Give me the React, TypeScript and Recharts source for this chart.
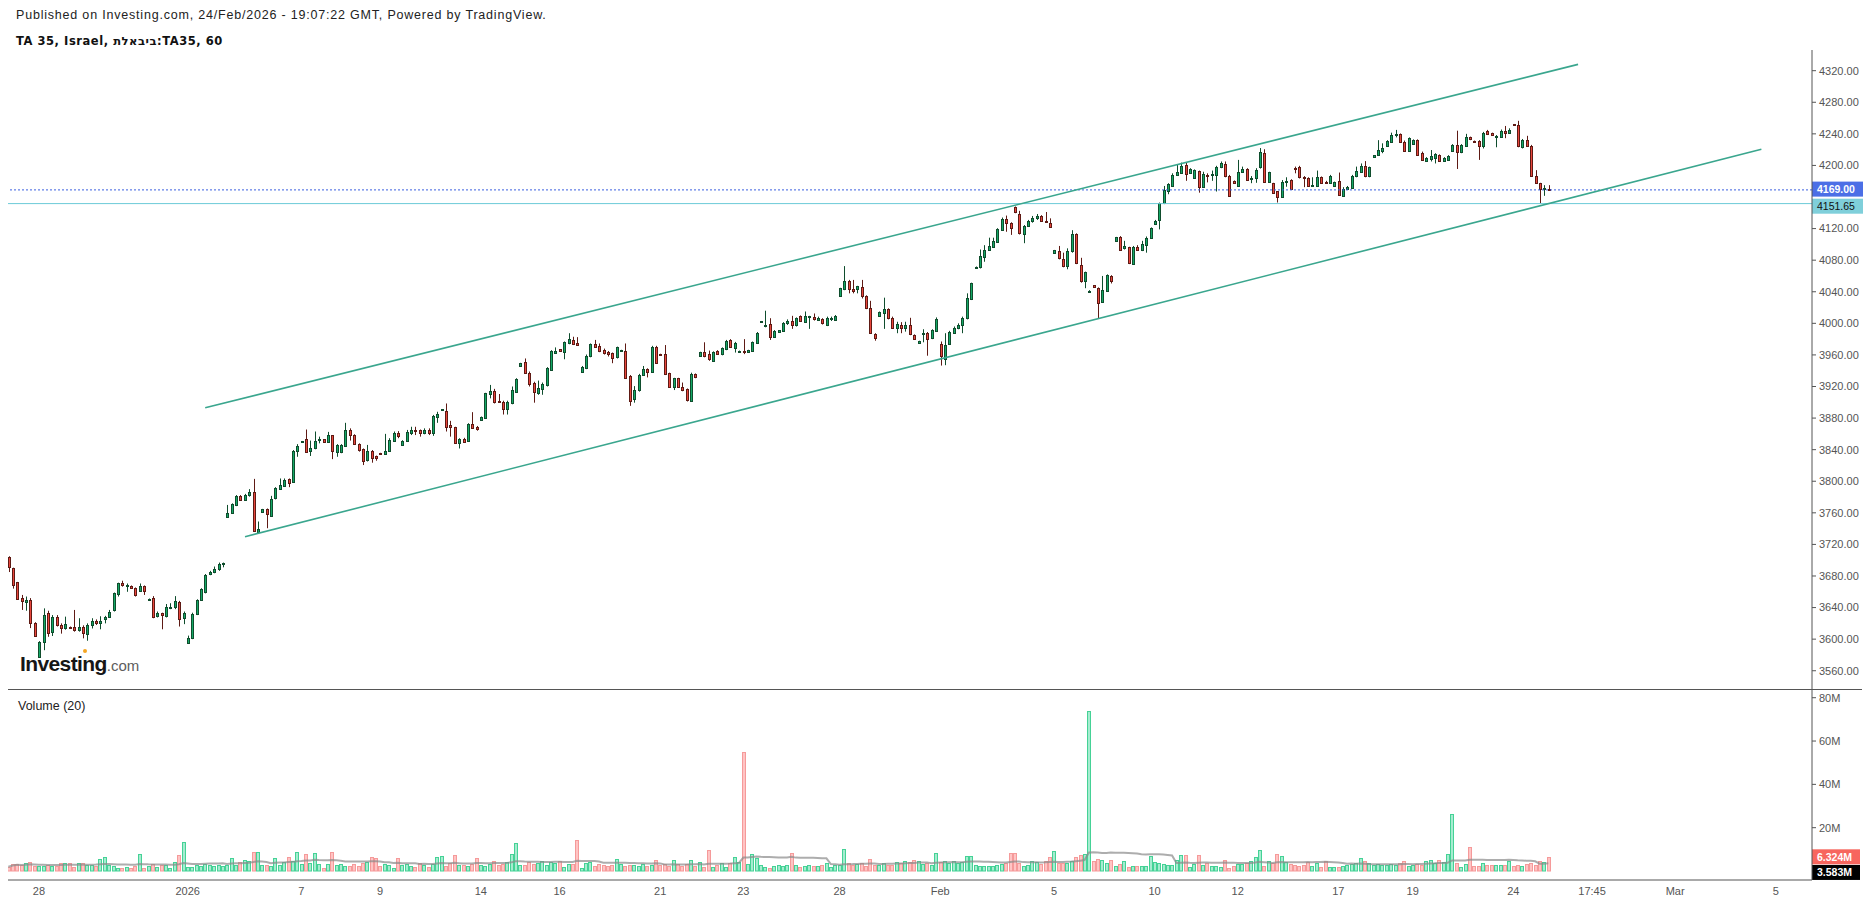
import React from 'react';
import { ComposedChart, Bar, Line, XAxis, YAxis, ReferenceLine } from 'recharts';

// ---------- data (hourly candles, TA 35) ----------
const opens = [
  3704,3690,3672,3652.5,3647,3650,3621,3577,3597,3633.5,
  3609.5,3628.5,3618,3614,3615.5,3616,3611.5,3615,3606,3618.5,
  3623,3620,3625,3628.5,3637,3657,3671.5,3667.5,3667.5,3664.5,
  3661.5,3667.5,3650,3652.5,3629.5,3632.5,3629.5,3639.5,3640.5,3647.5,
  3626.5,3595.5,3601,3631.5,3649.5,3660,3682,3684.5,3688.5,3695,
  3755,3760,3770,3781.5,3776,3783,3786,3736,3760.5,3764.5,
  3756.5,3778.5,3790,3794.5,3802.5,3799.5,3838.5,3849.5,3853,3838.5,
  3841.5,3852,3853,3850,3858,3836.5,3836.5,3845,3865.5,3858.5,
  3847,3840.5,3827,3838.5,3832,3835.5,3834,3838.5,3851.5,3861.5,
  3846.5,3851,3861.5,3865,3865,3860.5,3865.5,3861.5,3882,3890.5,
  3889,3871,3868.5,3849,3853.5,3851.5,3872.5,3868.5,3877.5,3880.5,
  3910.5,3914.5,3901.5,3900.5,3892,3898.5,3913.5,3946.5,3950.5,3937.5,
  3925,3912,3916.5,3922,3941,3963,3967,3964,3974.5,3979,
  3974.5,3938.5,3943,3958,3974,3971.5,3966,3963.5,3962,3957,
  3964.5,3964.5,3933.5,3904,3915,3934.5,3942,3939,3969.5,3961,
  3961,3936.5,3920,3930.5,3919,3916.5,3902,3935.5,3959,3963.5,
  3961,3952.5,3965,3961,3967.5,3979,3969,3964.5,3965.5,3964,
  3965.5,3975.5,4001.5,3996.5,3999,3983,3989.5,3990.5,4000,4003,
  3998,4009.5,4002,4008,4008,4004,4005,3998,4006.5,4004,
  4035,4043,4053.5,4044,4044,4045.5,4034.5,4019,3986.5,4009.5,
  4013.5,4018,4007,3993.5,3998.5,3994.5,3998,3985,3974.5,3986.5,
  3988,3981,3990.5,3973.5,3955,3974,3988,3994.5,3998,4006.5,
  4030.5,4071,4071,4084,4093,4097,4103.5,4118,4132,4126.5,
  4147,4138,4113,4123.5,4129,4134,4136,4129.5,4126.5,4088.5,
  4091.5,4081,4072,4091,4113,4074,4053,4040.5,4048,4044.5,
  4027.5,4041.5,4060,4104.5,4109.5,4095,4096.5,4075,4096.5,4093,
  4099,4108.5,4125.5,4131.5,4152,4167,4174,4188.5,4191,4200,
  4191,4183.5,4193,4173,4188,4187.5,4188.5,4197.5,4202,4186.5,
  4180.5,4174.5,4192,4195.5,4183,4184.5,4198.5,4215.5,4179.5,4177.5,
  4167,4160.5,4178.5,4181.5,4196.5,4197.5,4185,4183.5,4174.5,4174.5,
  4185,4178.5,4177.5,4174,4180.5,4161.5,4170,4172,4186.5,4192,
  4199.5,4186,4210.5,4213,4218.5,4224.5,4230,4238,4240,4230,
  4218.5,4227,4232,4216,4206,4208.5,4210,4213,4205.5,4207,
  4218.5,4226,4216.5,4225,4235.5,4231,4231.5,4225,4243.5,4240.5,
  4236.5,4236.5,4243.5,4241.5,4252,4251,4223,4232,4225,4186.5,
  4177.5,4170,4170.5,
];
const highs = [
  3705,3690.5,3672.5,3656,3654,3652,3621.5,3597.5,3639,3636,
  3630.5,3630.5,3620,3628.5,3616,3637,3626.5,3617.5,3620,3626.5,
  3625,3629,3629.5,3637,3659,3671.5,3674,3670.5,3668,3665.5,
  3670.5,3668,3651.5,3654.5,3635,3633.5,3644.5,3645.5,3654.5,3648.5,
  3635,3604.5,3633.5,3650.5,3664.5,3682.5,3686.5,3692,3697,3697,
  3770,3772,3782.5,3782.5,3784,3790,3803,3749,3765,3765.5,
  3781.5,3792.5,3803.5,3803.5,3803.5,3839.5,3847,3851,3865.5,3851.5,
  3863,3856.5,3853.5,3862.5,3858.5,3847,3847,3874,3867,3859.5,
  3848,3841.5,3846,3839.5,3832.5,3836,3860,3854.5,3863,3863.5,
  3852,3865,3869,3869,3865.5,3867,3867,3884,3888,3891.5,
  3898.5,3876.5,3869,3854.5,3855,3873.5,3887.5,3870,3882,3912,
  3922,3917,3910.5,3902,3902,3920,3930.5,3950,3955.5,3939,
  3926,3927.5,3925,3944.5,3966,3969.5,3967.5,3977,3987.5,3983,
  3982.5,3946,3960.5,3974.5,3979,3974.5,3968,3965,3963,3970.5,
  3966.5,3974.5,3934.5,3920.5,3936,3946,3943,3971.5,3971.5,3961.5,
  3972.5,3937.5,3931,3931,3925,3917.5,3937.5,3936.5,3964,3976,
  3965.5,3964.5,3966,3969.5,3979,3980,3976.5,3965.5,3980,3966.5,
  3977,3989,4003,4016,4006.5,3991.5,3991.5,4001.5,4005,4009.5,
  4007.5,4010,4015,4009.5,4012.5,4008.5,4006.5,4008.5,4008.5,4010.5,
  4045,4072.5,4055,4055,4047.5,4055,4035.5,4028.5,3987.5,4015,
  4032.5,4019,4008.5,4002,4001.5,4002,4007,3986,3978,3992.5,
  3989,3992.5,4007.5,3977,3987.5,3990.5,3996,4000,4008.5,4038,
  4051.5,4072,4093.5,4099,4108.5,4108.5,4120.5,4134,4136.5,4128,
  4148,4142.5,4124.5,4131,4136,4138.5,4137,4141,4133,4093,
  4098,4089.5,4095,4118,4114,4083,4065.5,4042,4048.5,4045.5,
  4060,4062,4061,4109.5,4110.5,4104.5,4097,4098,4099,4104.5,
  4110,4121.5,4131,4153,4174,4177.5,4190,4201.5,4203.5,4203.5,
  4196.5,4195,4193.5,4192,4190,4193.5,4199.5,4205,4205,4188,
  4181,4207,4198.5,4196.5,4186.5,4196.5,4222,4220.5,4192,4178,
  4167.5,4181.5,4185,4182.5,4198.5,4199.5,4186.5,4185,4185,4193.5,
  4186,4180.5,4188,4179.5,4191,4172.5,4174,4188,4198.5,4202.5,
  4205.5,4198.5,4213,4232,4228,4232,4241.5,4245,4240.5,4231.5,
  4235.5,4233,4233,4217.5,4210.5,4219.5,4215.5,4214,4210.5,4213,
  4227,4244,4227,4240,4236.5,4231.5,4232,4242.5,4245,4241.5,
  4238.5,4245.5,4250,4247,4252.5,4256.5,4233.5,4237.5,4226,4194,
  4178,4175,4175,
];
const lows = [
  3685,3664,3650,3637,3636,3614,3603,3576.5,3586,3603,
  3604,3616,3607,3612,3613,3609.5,3609.5,3601,3598,3613.5,
  3618,3612.5,3620,3627.5,3635,3654,3666.5,3660,3664,3654,
  3660,3656,3649.5,3626.5,3627.5,3612.5,3627.5,3638,3638,3616,
  3619,3595,3600,3630.5,3648.5,3658,3681,3683.5,3686.5,3691,
  3754,3759.5,3768.5,3775.5,3775.5,3780.5,3736,3735,3760,3740.5,
  3755,3777,3789,3793,3792.5,3798,3831,3849,3836,3832,
  3840.5,3848,3850,3849,3828,3831,3835.5,3844,3851.5,3846,
  3837.5,3820.5,3825,3823.5,3826,3833.5,3834,3837.5,3850,3854.5,
  3846,3850,3858.5,3858.5,3856.5,3859.5,3858.5,3857.5,3874,3890,
  3863,3856.5,3848,3841.5,3849,3851,3867,3864,3876.5,3879.5,
  3905,3898.5,3900,3884.5,3884.5,3897.5,3912,3945,3936,3920,
  3899.5,3909.5,3909.5,3920,3940,3962,3965,3954.5,3973.5,3972.5,
  3972,3937.5,3942,3957,3969.5,3963.5,3960.5,3958,3949.5,3955.5,
  3964,3930,3895.5,3899.5,3913.5,3933.5,3931.5,3937.5,3948.5,3959,
  3934.5,3918.5,3915.5,3918.5,3914,3901,3901,3930.5,3958,3957,
  3952.5,3952,3960,3959.5,3966,3969.5,3963,3964,3961,3963.5,
  3964.5,3974.5,4001,3995,3979,3982,3989,3990,3998,3993,
  3996,4002,4001.5,3993,4003.5,4003,3998.5,3996.5,4003,4003.5,
  4034,4042,4038,4038,4038,4031.5,4018,3986.5,3978,4009,
  3993,4005,3993,3987.5,3987.5,3989.5,3985,3979,3974,3976,
  3959,3980,3989.5,3946.5,3947,3973,3987,3992.5,3987.5,4005,
  4029.5,4070.5,4069.5,4078,4092,4096.5,4102.5,4117,4116,4112,
  4139.5,4112.5,4101.5,4122.5,4127.5,4131,4129,4127.5,4121,4088,
  4081,4071,4068.5,4089.5,4075,4051.5,4044.5,4040,4046,4005.5,
  4026.5,4040,4050.5,4104,4093,4093.5,4075,4074,4092,4091.5,
  4089.5,4107.5,4124.5,4119,4151,4163.5,4173,4188,4190,4180.5,
  4190,4183,4165.5,4172.5,4178.5,4180.5,4167,4196.5,4185,4161,
  4177,4174,4191,4180.5,4177.5,4178,4196,4178.5,4178,4164.5,
  4153,4160,4173,4170,4190,4183.5,4172.5,4173,4173,4173,
  4177,4176.5,4176.5,4173,4161.5,4160.5,4169,4171,4185,4191,
  4185,4185,4210,4212.5,4215.5,4224,4229,4235.5,4229.5,4217,
  4217.5,4226,4212.5,4206,4205.5,4205,4202.5,4205,4205,4206,
  4217.5,4195.5,4215.5,4224,4232,4229,4207,4221.5,4238.5,4237.5,
  4223,4235.5,4234.5,4240.5,4251,4223,4221.5,4224,4186,4176.5,
  4152,4161.5,4168,
];
const closes = [
  3691,3669,3650.5,3648,3650,3621,3603.5,3597,3631,3608,
  3628.5,3618,3614,3619,3614,3611,3616,3607.5,3618.5,3623.5,
  3620,3623.5,3628.5,3635,3658,3670.5,3668.5,3668.5,3664.5,3656,
  3667.5,3661.5,3651,3627.5,3633.5,3630,3640.5,3641,3648.5,3625,
  3632.5,3601,3631.5,3649.5,3663,3681,3685.5,3689,3695,3696,
  3760,3771,3781.5,3776,3783,3787,3736.5,3739,3764.5,3758,
  3777.5,3791,3795,3801.5,3798,3838.5,3845,3851,3837.5,3841.5,
  3851.5,3853,3850,3858,3838.5,3846.5,3846,3865.5,3858.5,3847,
  3839.5,3826,3838.5,3830,3830,3834,3838.5,3852,3861.5,3857.5,
  3851,3863,3865,3863.5,3860.5,3865.5,3861.5,3882.5,3885,3891,
  3869,3869,3849,3853.5,3850,3872.5,3868,3866.5,3881,3911.5,
  3914.5,3900,3900.5,3892,3900.5,3915.5,3929,3949.5,3936.5,3923,
  3912.5,3917.5,3923,3943,3965,3965,3965.5,3976,3980,3973.5,
  3972.5,3945,3959,3973.5,3970.5,3965.5,3962,3961.5,3955.5,3969.5,
  3966,3931,3902,3915.5,3934.5,3942,3939,3970.5,3949.5,3959.5,
  3935.5,3920,3930.5,3920,3915.5,3903,3936,3932.5,3963.5,3958,
  3955,3963.5,3961,3969,3977.5,3970.5,3974.5,3965,3964.5,3966,
  3976.5,3988,4002.5,3998.5,3983,3990.5,3991.5,4000.5,4003,3998,
  4006.5,4003.5,4009.5,4009,4005,4006.5,4000,4006.5,4007,4009.5,
  4044.5,4053.5,4043,4041.5,4047,4034,4019,3987.5,3981,4014,
  4018,4006.5,3993.5,3999,3993.5,3998,3986,3980,3977,3987.5,
  3980,3991.5,4005.5,3958,3972.5,3989,3994.5,3998,4006.5,4031.5,
  4050.5,4071.5,4085.5,4093.5,4098,4104.5,4119.5,4132,4126.5,4120.5,
  4140.5,4114,4123.5,4129.5,4134,4136,4130,4128.5,4121.5,4092.5,
  4082.5,4072,4091.5,4113,4076,4053,4064.5,4041.5,4046.5,4026,
  4042,4061,4053,4109,4093.5,4098,4076,4096.5,4093.5,4100.5,
  4108.5,4120.5,4129.5,4152,4169,4176,4188.5,4191.5,4199.5,4189,
  4195,4194,4173,4189,4186,4189,4197.5,4202.5,4186,4161.5,
  4177.5,4191.5,4195.5,4181.5,4184.5,4194,4216.5,4179.5,4191.5,4165.5,
  4160.5,4179.5,4180.5,4170.5,4195,4185,4183.5,4174.5,4175.5,4185,
  4178,4177.5,4187,4178.5,4162.5,4170,4172.5,4186.5,4193,4199.5,
  4186,4197.5,4213,4219.5,4222.5,4231.5,4238.5,4239.5,4230,4218.5,
  4234.5,4232,4213,4207,4209,4212,4214,4205.5,4209,4212,
  4226,4216.5,4226,4235.5,4233,4229.5,4225,4240.5,4240,4238.5,
  4237.5,4243.5,4240.5,4245,4251.5,4224,4232,4225,4186.5,4177.5,
  4170,4172,4169,
];
// volume in millions
const volumes = [
  2.0,3.1,3.4,2.6,3.6,4.0,2.5,2.2,2.3,2.6,
  2.2,2.4,3.8,3.8,3.6,1.9,3.5,3.6,2.6,3.0,
  2.5,5.4,6.3,2.9,2.3,1.5,1.2,2.0,1.4,2.1,
  7.8,1.5,2.4,3.4,1.9,2.6,2.9,1.6,4.0,7.4,
  13.4,1.8,1.7,2.9,2.3,3.2,2.6,2.2,2.7,2.3,
  3.0,5.8,2.9,4.2,5.0,4.8,8.9,8.6,2.8,2.6,
  2.3,5.9,2.6,4.3,6.3,4.6,9.0,3.1,7.8,3.5,
  8.1,3.4,1.6,3.4,8.6,2.6,3.4,2.5,2.4,3.2,
  2.5,3.8,4.1,6.3,5.8,2.2,3.1,2.6,1.6,5.8,
  2.8,3.1,2.4,2.0,3.6,2.8,1.8,3.1,6.6,6.9,
  2.3,3.6,7.4,2.9,3.0,2.5,3.1,5.8,3.0,2.2,
  3.1,4.8,2.7,3.4,4.0,7.8,12.9,3.0,2.8,4.2,
  3.2,3.8,4.4,3.0,4.0,3.6,4.6,1.8,3.4,3.3,
  14.1,1.6,3.6,4.0,2.4,3.1,2.7,2.2,2.7,5.4,
  3.3,2.3,2.8,2.6,2.1,3.2,2.1,2.7,4.9,2.6,
  3.4,2.2,4.9,3.3,2.5,3.1,4.9,2.3,4.2,1.7,
  9.7,2.0,2.6,3.6,2.0,3.6,6.3,4.3,55.0,3.1,
  7.8,6.2,2.6,2.0,1.6,2.5,2.7,2.2,2.8,8.2,
  2.6,1.8,2.1,2.6,2.5,2.3,2.6,3.6,1.8,2.6,
  2.9,10.2,3.8,2.6,3.1,3.8,2.3,5.4,3.0,2.9,
  3.9,2.6,2.8,4.2,3.7,4.4,4.0,5.0,4.8,3.3,
  3.8,2.8,8.2,4.2,4.8,3.9,4.4,3.6,4.0,6.7,
  6.9,2.6,2.2,2.4,2.4,2.4,2.8,3.1,3.6,8.2,
  8.2,3.5,2.2,2.7,4.8,4.1,3.2,4.6,6.3,9.1,
  3.8,3.9,3.6,4.4,6.3,7.2,7.8,73.8,4.6,5.7,
  5.2,3.8,5.1,2.1,3.1,4.7,2.0,2.3,2.2,2.3,
  2.1,6.8,4.2,3.7,3.3,3.0,2.9,5.3,7.4,7.2,
  2.0,3.2,7.2,2.7,3.6,2.2,2.2,2.0,4.9,1.2,
  2.4,3.3,3.3,3.6,4.6,6.5,9.5,2.3,4.4,3.7,
  7.8,6.8,4.2,3.4,2.6,2.3,2.7,4.2,2.4,3.9,
  2.0,4.4,1.7,1.9,2.0,2.4,2.6,3.3,3.6,5.8,
  4.5,3.8,2.8,3.3,3.0,2.6,3.2,2.8,3.9,4.6,
  2.1,2.8,3.3,2.6,4.4,5.0,3.7,5.3,4.0,7.7,
  26.3,3.8,2.0,3.1,10.9,2.1,2.5,3.5,2.9,2.9,
  2.9,2.6,2.9,4.5,2.1,2.6,2.2,3.3,3.6,2.8,
  4.4,4.2,6.324,
];

// x-axis tick positions (bar index) and their labels
const tickIndex = [7, 41, 67, 85, 108, 126, 149, 168, 190, 213, 239, 262, 281, 304, 321, 344, 362, 381, 404];
const tickLabels = ['28', '2026', '7', '9', '14', '16', '21', '23', '28', 'Feb', '5', '10', '12', '17', '19', '24', '17:45', 'Mar', '5'];

// 4160 is hidden behind the price tags in the reference
const priceTicks = [3560, 3600, 3640, 3680, 3720, 3760, 3800, 3840, 3880, 3920, 3960, 4000, 4040, 4080, 4120, 4200, 4240, 4280, 4320];
const volumeTicks = [20, 40, 60, 80];

const lastPrice = 4169.0;
const supportLevel = 4151.65;
const lastVolume = 6.324;
const volumeMaLast = 3.583;

// trend lines: [bar index, price]
const upperTrend = [[45, 3893], [358.8, 4328]];
const lowerTrend = [[54.1, 3729.7], [400.7, 4220.6]];

// ---------- derived table ----------
const N = Math.min(opens.length, highs.length, lows.length, closes.length, volumes.length);
const rows = Array.from({ length: N }, (_, i) => {
  const from = Math.max(0, i - 19);
  let s = 0;
  for (let k = from; k <= i; k++) s += volumes[k];
  return { i, o: opens[i], h: highs[i], l: lows[i], c: closes[i], v: volumes[i], ma: s / (i - from + 1) };
});

// ---------- style ----------
const W = 1870;
const X_DOMAIN: [number, number] = [-0.07, 412.27];
const PRICE_DOMAIN: [number, number] = [3535.6, 4346.2];
const VOL_DOMAIN: [number, number] = [-4.15, 83.56];
const FONT = '"Liberation Sans", Arial, Helvetica, sans-serif';
const UP_FILL = '#14a866';
const UP_EDGE = '#0f4d2d';
const DN_FILL = '#e8463c';
const DN_EDGE = '#5e1a14';
const AXIS = '#555555';
const TREND = '#3aa68e';

const CandleShape = (props: any) => {
  const { x, y, width, height, payload } = props;
  if (!payload || typeof y !== 'number' || typeof height !== 'number') return null;
  const { o, h, l, c } = payload;
  const up = c >= o;
  const cx = Math.round(x + width / 2);
  const span = h - l || 1;
  const py = (v: number) => y + ((h - v) / span) * height;
  const top = Math.round(py(Math.max(o, c))) + 0.5;
  let bot = Math.round(py(Math.min(o, c))) + 0.5;
  if (bot - top < 1) bot = top + 1;
  const edge = up ? UP_EDGE : DN_EDGE;
  return (
    <g>
      <line x1={cx + 0.5} x2={cx + 0.5} y1={y} y2={y + height} stroke={edge} strokeWidth={1} />
      <rect x={cx - 0.5} y={top} width={2} height={bot - top} fill={up ? UP_FILL : DN_FILL} stroke={edge} strokeWidth={1} />
    </g>
  );
};

const VolumeShape = (props: any) => {
  const { x, y, width, height, payload } = props;
  if (!payload || typeof y !== 'number' || !(height > 0)) return null;
  const up = payload.c >= payload.o;
  const cx = Math.round(x + width / 2);
  return (
    <rect
      x={cx - 1.5}
      y={Math.round(y) + 0.5}
      width={3}
      height={Math.max(Math.round(y + height) - Math.round(y) - 0.5, 0.5)}
      fill={up ? '#a6ecd0' : '#ffc4c4'}
      stroke={up ? '#45d296' : '#f59a9a'}
      strokeWidth={1}
    />
  );
};

const makeTag = (text: string, bg: string, fg: string, dy: number, w = 51, bold = true) => (p: any) => {
  const vb = p && p.viewBox ? p.viewBox : { x: 0, y: 0, width: 0 };
  const x = (vb.x || 0) + (vb.width || 0);
  const y = (vb.y || 0) + dy;
  return (
    <g>
      <rect x={x} y={y - 7.5} width={w} height={15} fill={bg} />
      <text x={x + 5} y={y + 3.8} fontSize={10.5} fontFamily={FONT} fill={fg} fontWeight={bold ? 700 : 400}>
        {text}
      </text>
    </g>
  );
};

const tickText = (v: number) => {
  const k = tickIndex.indexOf(v);
  return k >= 0 ? tickLabels[k] : '';
};

export default function App() {
  return (
    <div style={{ position: 'relative', width: W, height: 904, background: '#ffffff', overflow: 'hidden', fontFamily: FONT }}>
      <style>{'body{margin:0;background:#fff}'}</style>

      {/* price pane */}
      <div style={{ position: 'absolute', left: 0, top: 0 }}>
        <ComposedChart width={W} height={690} data={rows} margin={{ top: 50, right: 0, bottom: 0, left: 8 }}>
          <XAxis dataKey="i" type="number" domain={X_DOMAIN} allowDataOverflow hide />
          <YAxis
            orientation="right"
            width={58}
            domain={PRICE_DOMAIN}
            allowDataOverflow
            ticks={priceTicks}
            interval={0}
            tickFormatter={(v: number) => v.toFixed(2)}
            tick={{ fontSize: 11, fill: AXIS, fontFamily: FONT }}
            tickSize={4}
            tickMargin={3}
            axisLine={{ stroke: AXIS }}
            tickLine={{ stroke: AXIS }}
          />
          <ReferenceLine
            y={supportLevel}
            stroke="#6ccad8"
            strokeWidth={1}
            label={makeTag(supportLevel.toFixed(2), '#7fcfda', '#111111', 2.6, 51, false)}
          />
          <ReferenceLine
            y={lastPrice}
            stroke="#3a5fe0"
            strokeWidth={1}
            strokeDasharray="2 2"
            label={makeTag(lastPrice.toFixed(2), '#4c6fe6', '#ffffff', -0.8)}
          />
          <ReferenceLine
            segment={[{ x: upperTrend[0][0], y: upperTrend[0][1] }, { x: upperTrend[1][0], y: upperTrend[1][1] }]}
            stroke={TREND}
            strokeWidth={1.6}
          />
          <ReferenceLine
            segment={[{ x: lowerTrend[0][0], y: lowerTrend[0][1] }, { x: lowerTrend[1][0], y: lowerTrend[1][1] }]}
            stroke={TREND}
            strokeWidth={1.6}
          />
          <Bar dataKey={(d: any) => [d.l, d.h]} barSize={3} shape={CandleShape} isAnimationActive={false} />
        </ComposedChart>
      </div>

      {/* volume pane + time axis */}
      <div style={{ position: 'absolute', left: 0, top: 690 }}>
        <ComposedChart width={W} height={214} data={rows} margin={{ top: 0, right: 0, bottom: 0, left: 8 }}>
          <XAxis
            dataKey="i"
            type="number"
            domain={X_DOMAIN}
            allowDataOverflow
            ticks={tickIndex}
            interval={0}
            tickFormatter={tickText}
            height={24}
            tickSize={0}
            tickMargin={7}
            tick={{ fontSize: 11, fill: AXIS, fontFamily: FONT }}
            axisLine={{ stroke: AXIS }}
            tickLine={false}
          />
          <YAxis
            orientation="right"
            width={58}
            domain={VOL_DOMAIN}
            allowDataOverflow
            ticks={volumeTicks}
            interval={0}
            tickFormatter={(v: number) => `${v}M`}
            tick={{ fontSize: 11, fill: AXIS, fontFamily: FONT }}
            tickSize={4}
            tickMargin={3}
            axisLine={{ stroke: AXIS }}
            tickLine={{ stroke: AXIS }}
          />
          <Bar dataKey="v" barSize={3} shape={VolumeShape} isAnimationActive={false} />
          <Line dataKey="ma" type="linear" stroke="#8a8a8a" strokeOpacity={0.7} strokeWidth={2} dot={false} isAnimationActive={false} />
          <ReferenceLine y={lastVolume} strokeOpacity={0} label={makeTag(`${lastVolume.toFixed(3)}M`, '#f7665e', '#ffffff', -0.5, 48)} />
          <ReferenceLine y={volumeMaLast} strokeOpacity={0} label={makeTag(`${volumeMaLast.toFixed(3)}M`, '#000000', '#ffffff', 9.2, 48)} />
        </ComposedChart>
      </div>

      {/* pane divider */}
      <div style={{ position: 'absolute', left: 8, top: 689, width: 1854, height: 1, background: AXIS }} />

      {/* header */}
      <div style={{ position: 'absolute', left: 16, top: 8, fontSize: 12.5, letterSpacing: 0.8, color: '#222', whiteSpace: 'nowrap', fontFamily: FONT }}>
        Published on Investing.com, 24/Feb/2026 - 19:07:22 GMT, Powered by TradingView.
      </div>
      <div style={{ position: 'absolute', left: 16, top: 34, fontSize: 11.5, letterSpacing: 0.55, fontWeight: 700, color: '#111', whiteSpace: 'nowrap', fontFamily: '"DejaVu Sans", Verdana, sans-serif' }}>
        TA 35, Israel, <span style={{ unicodeBidi: 'bidi-override', direction: 'ltr' }}>תלאביב</span>:TA35, 60
      </div>

      {/* watermark logo */}
      <div style={{ position: 'absolute', left: 20, top: 653, whiteSpace: 'nowrap', lineHeight: 1 }}>
        <span style={{ fontSize: 21, fontWeight: 700, color: '#161616', letterSpacing: -0.6, fontFamily: FONT }}>Investing</span>
        <span style={{ fontSize: 15, color: '#5d5d5d', fontFamily: FONT }}>.com</span>
      </div>
      <div style={{ position: 'absolute', left: 83, top: 649, width: 4, height: 4, borderRadius: 2, background: '#f5a623' }} />

      {/* volume pane title */}
      <div style={{ position: 'absolute', left: 18, top: 699, fontSize: 12.5, color: '#222', whiteSpace: 'nowrap', fontFamily: FONT }}>
        Volume (20)
      </div>
    </div>
  );
}
